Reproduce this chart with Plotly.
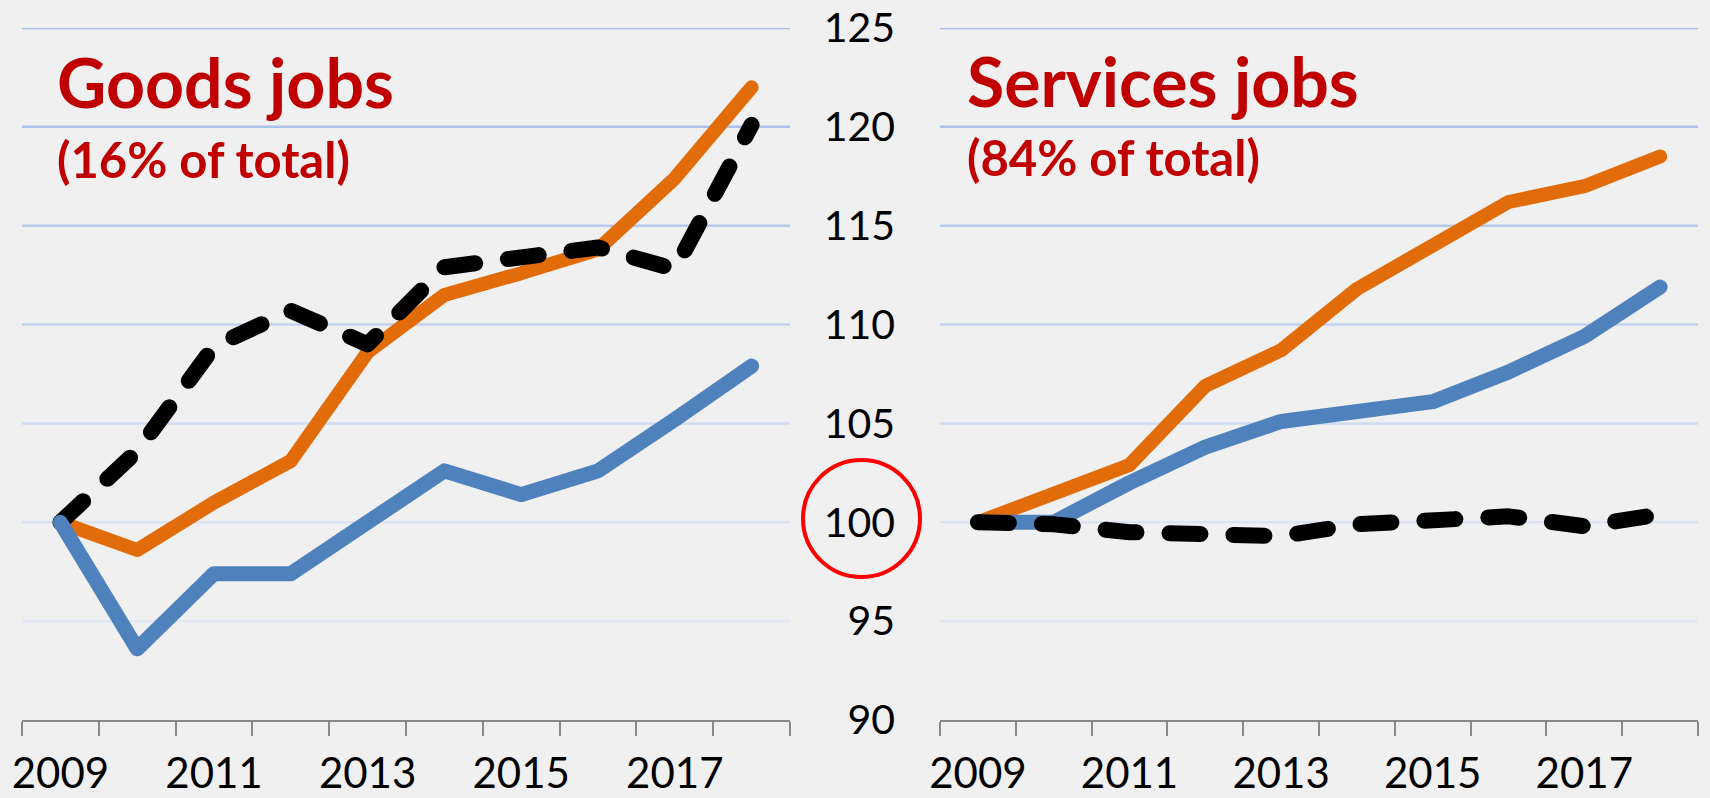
import plotly.graph_objects as go

# ---------------- data ----------------
years = [2009, 2010, 2011, 2012, 2013, 2014, 2015, 2016, 2017, 2018]
label_years = [2009, 2011, 2013, 2015, 2017]
y_ticks = [90, 95, 100, 105, 110, 115, 120, 125]

goods_orange = [100, 98.6, 101.0, 103.1, 108.6, 111.5, 112.6, 113.8, 117.4, 122.0]
goods_blue = [100, 93.6, 97.4, 97.4, 100.0, 102.6, 101.4, 102.6, 105.2, 107.9]
goods_black = [100, 103.6, 108.9, 110.7, 109.0, 112.9, 113.4, 113.9, 112.8, 120.1]

serv_orange = [100, 101.4, 102.9, 106.9, 108.7, 111.8, 114.0, 116.2, 117.0, 118.5]
serv_blue = [100, 100.0, 102.0, 103.8, 105.1, 105.6, 106.1, 107.6, 109.4, 111.9]
serv_black = [100, 99.9, 99.5, 99.3, 99.3, 99.9, 100.1, 100.3, 99.8, 100.4]

grid_vals = [95, 100, 105, 110, 115, 120, 125]
grid_colors = ["#E2E8F3", "#DCE3F2", "#D0DCF1", "#C3D2EE", "#B7C9EA", "#AAC1EA", "#A4BDE8"]

# ---------------- style ----------------
W, H = 1710, 798
ORANGE = "#E36C0A"
BLUE = "#4F81BD"
BLACK = "#000000"
RED = "#C00000"
BG = "#F0F0F0"
FONT = "Lato, 'Open Sans', sans-serif"


def px_x(p):
    return p / W


def px_y(p):
    return 1 - p / H


fig = go.Figure()

# left panel: orange, black, blue
fig.add_trace(go.Scatter(x=years, y=goods_orange, mode="lines",
                         line=dict(color=ORANGE, width=14), xaxis="x", yaxis="y"))
fig.add_trace(go.Scatter(x=years, y=goods_black, mode="lines",
                         line=dict(color=BLACK, width=16, dash="31px,33px"), xaxis="x", yaxis="y"))
fig.add_trace(go.Scatter(x=years, y=goods_blue, mode="lines",
                         line=dict(color=BLUE, width=15), xaxis="x", yaxis="y"))
# right panel: orange, blue, black
fig.add_trace(go.Scatter(x=years, y=serv_orange, mode="lines",
                         line=dict(color=ORANGE, width=14), xaxis="x2", yaxis="y2"))
fig.add_trace(go.Scatter(x=years, y=serv_blue, mode="lines",
                         line=dict(color=BLUE, width=15), xaxis="x2", yaxis="y2"))
fig.add_trace(go.Scatter(x=years, y=serv_black, mode="lines",
                         line=dict(color=BLACK, width=16, dash="31px,33px"), xaxis="x2", yaxis="y2"))

ydom = [px_y(720), px_y(28)]
xr = [years[0] - 0.5, years[-1] + 0.5]
bounds = [y - 0.5 for y in years] + [years[-1] + 0.5]

xaxis_common = dict(
    range=xr, tickmode="array", tickvals=label_years, ticktext=[str(v) for v in label_years],
    ticks="", showgrid=False, zeroline=False, showline=True, linecolor="#8A8A8A", linewidth=2,
    tickfont=dict(family=FONT, size=42, color="#000000"), ticklabelstandoff=16,
    minor=dict(tickmode="array", tickvals=bounds, ticks="outside", ticklen=14, tickwidth=2,
               tickcolor="#8A8A8A", showgrid=False),
    fixedrange=True, automargin=False,
)

fig.update_layout(
    width=W, height=H,
    margin=dict(l=0, r=0, t=0, b=0, autoexpand=False),
    paper_bgcolor=BG, plot_bgcolor=BG,
    showlegend=False,
    xaxis=dict(domain=[px_x(22), px_x(790)], anchor="y", **xaxis_common),
    xaxis2=dict(domain=[px_x(940), px_x(1698)], anchor="y2", **xaxis_common),
    yaxis=dict(domain=ydom, range=[90, 125], anchor="x", showgrid=False, zeroline=False,
               showticklabels=False, ticks="", fixedrange=True, automargin=False),
    yaxis2=dict(domain=ydom, range=[90, 125], anchor="x2", showgrid=False, zeroline=False,
                tickmode="array", tickvals=y_ticks, ticks="", showline=False,
                tickfont=dict(family=FONT, size=41, color="#000000"), ticklabelstandoff=44,
                fixedrange=True, automargin=False),
)

# gridlines (light blue, fading towards bottom)
for xd, yd in (("x domain", "y"), ("x2 domain", "y2")):
    for gv, gc in zip(grid_vals, grid_colors):
        fig.add_shape(type="line", xref=xd, yref=yd, x0=0, x1=1, y0=gv, y1=gv,
                      line=dict(color=gc, width=2.5), layer="below")

# red circle around the 100 label
fig.add_shape(type="circle", xref="paper", yref="paper",
              x0=px_x(803), x1=px_x(920), y0=px_y(577), y1=px_y(460),
              line=dict(color="#FF0000", width=4))

# panel titles
titles = [
    ("Goods jobs", 55, 82, 68),
    ("(16% of total)", 55, 159, 49),
    ("Services jobs", 965, 80, 68),
    ("(84% of total)", 965, 157, 49),
]
for txt, x, y, s in titles:
    fig.add_annotation(text=f"<b>{txt}</b>", xref="paper", yref="paper",
                       x=px_x(x), y=px_y(y), xanchor="left", yanchor="middle",
                       showarrow=False, font=dict(family=FONT, size=s, color=RED))

post = ("document.body.style.margin='0';document.body.style.background='" + BG + "';"
        "document.querySelectorAll('path.js-line').forEach(function(p){"
        "p.style.strokeLinecap='round';p.style.strokeLinejoin='round';});")
fig.write_html("out.html", post_script=post, config={"displayModeBar": False})
